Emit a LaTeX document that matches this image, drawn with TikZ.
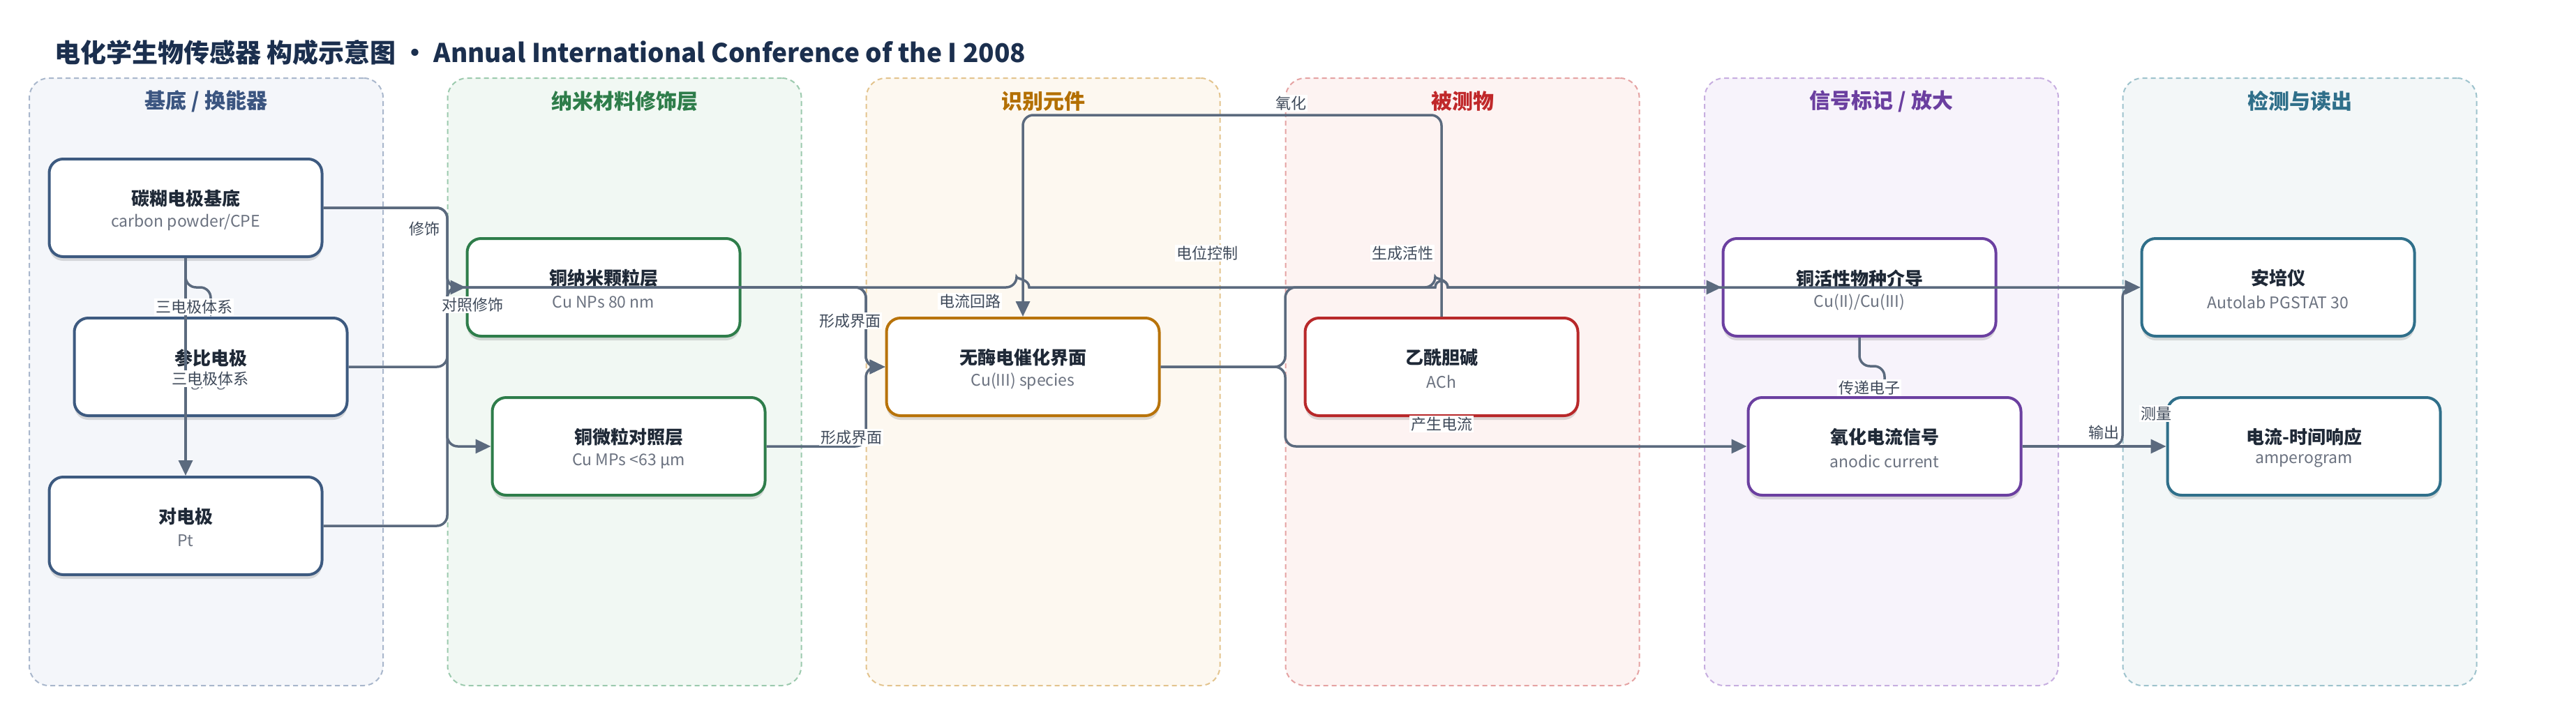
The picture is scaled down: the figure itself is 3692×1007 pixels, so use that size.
\documentclass[tikz,border=0pt]{standalone}
\usepackage{fontspec}
\setmainfont{Noto Sans CJK SC}
\usetikzlibrary{arrows.meta,shadows,calc}
\newcommand\setfs[1]{\fontsize{#1pt}{#1pt}\selectfont}
\definecolor{edgec}{HTML}{5B6A7E}
\definecolor{labc}{HTML}{3F4A5A}
\definecolor{ttlc}{HTML}{1F2937}
\definecolor{subc}{HTML}{6B7280}
\definecolor{headc}{HTML}{1B2F4E}
% lanes
\definecolor{lb1}{HTML}{A9B7CC}\definecolor{lf1}{HTML}{F4F6FA}\definecolor{lt1}{HTML}{3B5580}
\definecolor{lb2}{HTML}{9CCAAE}\definecolor{lf2}{HTML}{F1F8F3}\definecolor{lt2}{HTML}{2E7D4A}
\definecolor{lb3}{HTML}{E3C48E}\definecolor{lf3}{HTML}{FDF8F0}\definecolor{lt3}{HTML}{B36F00}
\definecolor{lb4}{HTML}{E5A3A3}\definecolor{lf4}{HTML}{FDF3F2}\definecolor{lt4}{HTML}{C0282A}
\definecolor{lb5}{HTML}{C7AEE0}\definecolor{lf5}{HTML}{F7F3FB}\definecolor{lt5}{HTML}{6B3FA0}
\definecolor{lb6}{HTML}{9EC3CD}\definecolor{lf6}{HTML}{F3F7F8}\definecolor{lt6}{HTML}{2F6F8A}
% card borders
\definecolor{c1}{HTML}{3D5A80}
\definecolor{c2}{HTML}{2E7D4A}
\definecolor{c3}{HTML}{B8730A}
\definecolor{c4}{HTML}{B8282A}
\definecolor{c5}{HTML}{6B3FA0}
\definecolor{c6}{HTML}{2F6F8A}

\newcommand\card[6]{%
  \node[card=#4] (#1) at (#2,#3) {};
  \node[ttl] (#1t) at ([yshift=13pt]#1.center) {#5};
  \node[subt] (#1s) at ([yshift=-21pt]#1.center) {#6};
}
\newcommand\lane[6]{%
  \node[lanebox={#3}{#4}] (#1) at (#2,547.5) {};
  \node[lanetitle, text=#5] (#1t) at ([yshift=-34pt]#1.north) {#6};
}

\begin{document}
\begin{tikzpicture}[x=1pt,y=-1pt,
  lanebox/.style 2 args={draw=#1, fill=#2, line width=2pt, dash pattern=on 7pt off 5pt,
     rounded corners=28pt, minimum width=507pt, minimum height=871pt, inner sep=0pt},
  lanetitle/.style={font=\setfs{30}\bfseries, inner sep=0pt},
  card/.style={draw=#1, fill=white, line width=4pt, rounded corners=20pt,
     minimum width=391pt, minimum height=140pt, inner sep=0pt,
     drop shadow={shadow xshift=0pt, shadow yshift=-6pt, opacity=0.13, fill=black}},
  ttl/.style={font=\setfs{26}\bfseries, text=ttlc, inner sep=0pt},
  subt/.style={font=\setfs{23}, text=subc, inner sep=0pt},
  edge/.style={draw=edgec, line width=3.5pt, rounded corners=15pt,
     -{Triangle[length=22pt,width=20pt]}},
  elabel/.style={fill=white, inner sep=2pt, text=labc, font=\setfs{22}},
]
\useasboundingbox (0,0) rectangle (3692,1007);
\fill[white] (0,0) rectangle (3692,1007);

% title
\node[anchor=west, inner sep=0pt, text=headc, font=\setfs{37}\bfseries] (title) at (78,75)
  {电化学生物传感器 构成示意图 • Annual International Conference of the I 2008};

% lanes
\lane{L1}{295.5}{lb1}{lf1}{lt1}{基底 / 换能器}
\lane{L2}{895}{lb2}{lf2}{lt2}{纳米材料修饰层}
\lane{L3}{1495}{lb3}{lf3}{lt3}{识别元件}
\lane{L4}{2096}{lb4}{lf4}{lt4}{被测物}
\lane{L5}{2696.5}{lb5}{lf5}{lt5}{信号标记 / 放大}
\lane{L6}{3296}{lb6}{lf6}{lt6}{检测与读出}

% cards
\card{n1}{266}{298}{c1}{碳糊电极基底}{carbon powder/CPE}
\card{n2}{302}{526}{c1}{参比电极}{Ag/AgCl}
\card{n3}{266}{754}{c1}{对电极}{Pt}
\card{n4}{865}{412}{c2}{铜纳米颗粒层}{Cu NPs 80 nm}
\card{n5}{901}{640}{c2}{铜微粒对照层}{Cu MPs <63 µm}
\card{n6}{1466}{526}{c3}{无酶电催化界面}{Cu(III) species}
\card{n7}{2066}{526}{c4}{乙酰胆碱}{ACh}
\card{n8}{2665}{412}{c5}{铜活性物种介导}{Cu(II)/Cu(III)}
\card{n9}{2701}{640}{c5}{氧化电流信号}{anodic current}
\card{n10}{3265}{412}{c6}{安培仪}{Autolab PGSTAT 30}
\card{n11}{3302}{640}{c6}{电流-时间响应}{amperogram}

% routing coordinates
\coordinate (b1) at (641,0);
\coordinate (b2) at (1241,0);
\coordinate (b3) at (1842,0);
\coordinate (b4) at (3042,0);
\coordinate (t1) at (1466,165);
\coordinate (j1) at (302,412);
\coordinate (j2) at (2701,525);

% edges
\draw[edge] (n1.south) |- (j1) -- (n2.north);
\draw[edge] (n1.south) -- (n3.north);
\draw[edge] (n1.east) -| (b1|-n4.west) -- (n4.west);
\draw[edge] (n1.east) -| (b1|-n5.west) -- (n5.west);
\draw[edge] (n3.east) -| (b1|-n4.west) -| (b2|-n6.west) -- (n6.west);
\draw[edge] (n2.east) -| (b1|-n4.west) -- (1457,412) [sharp corners]
   .. controls (1457,400) and (1475,400) .. (1475,412) -- (2057,412)
   .. controls (2057,400) and (2075,400) .. (2075,412) -- (n10.west);
\draw[edge] (n4.east) -| (b2|-n6.west) -- (n6.west);
\draw[edge] (n5.east) -| (b2|-n6.west) -- (n6.west);
\draw[edge] (n7.north) |- (t1) -- (n6.north);
\draw[edge] (n6.east) -| (b3|-n8.west) -- (2057,412) [sharp corners]
   .. controls (2057,400) and (2075,400) .. (2075,412) -- (n8.west);
\draw[edge] (n6.east) -| (b3|-n9.west) -- (n9.west);
\draw[edge] (n8.south) |- (j2) -- (n9.north);
\draw[edge] (n9.east) -| (b4|-n10.west) -- (n10.west);
\draw[edge] (n9.east) -- (n11.west);

% edge labels
\node[elabel] (e1) at (608,328) {修饰};
\node[elabel] (e2) at (677,437) {对照修饰};
\node[elabel] (e3) at (278,440) {三电极体系};
\node[elabel] (e4) at (301,543) {三电极体系};
\node[elabel] (e5) at (1218,460) {形成界面};
\node[elabel] (e6) at (1220,627) {形成界面};
\node[elabel] (e7) at (1390,432) {电流回路};
\node[elabel] (e8) at (1730,363) {电位控制};
\node[elabel] (e9) at (1850,148) {氧化};
\node[elabel] (e10) at (2010,363) {生成活性};
\node[elabel] (e11) at (2066,608) {产生电流};
\node[elabel] (e12) at (2679,556) {传递电子};
\node[elabel] (e13) at (3015,620) {输出};
\node[elabel] (e14) at (3090,593) {测量};
\end{tikzpicture}
\end{document}
